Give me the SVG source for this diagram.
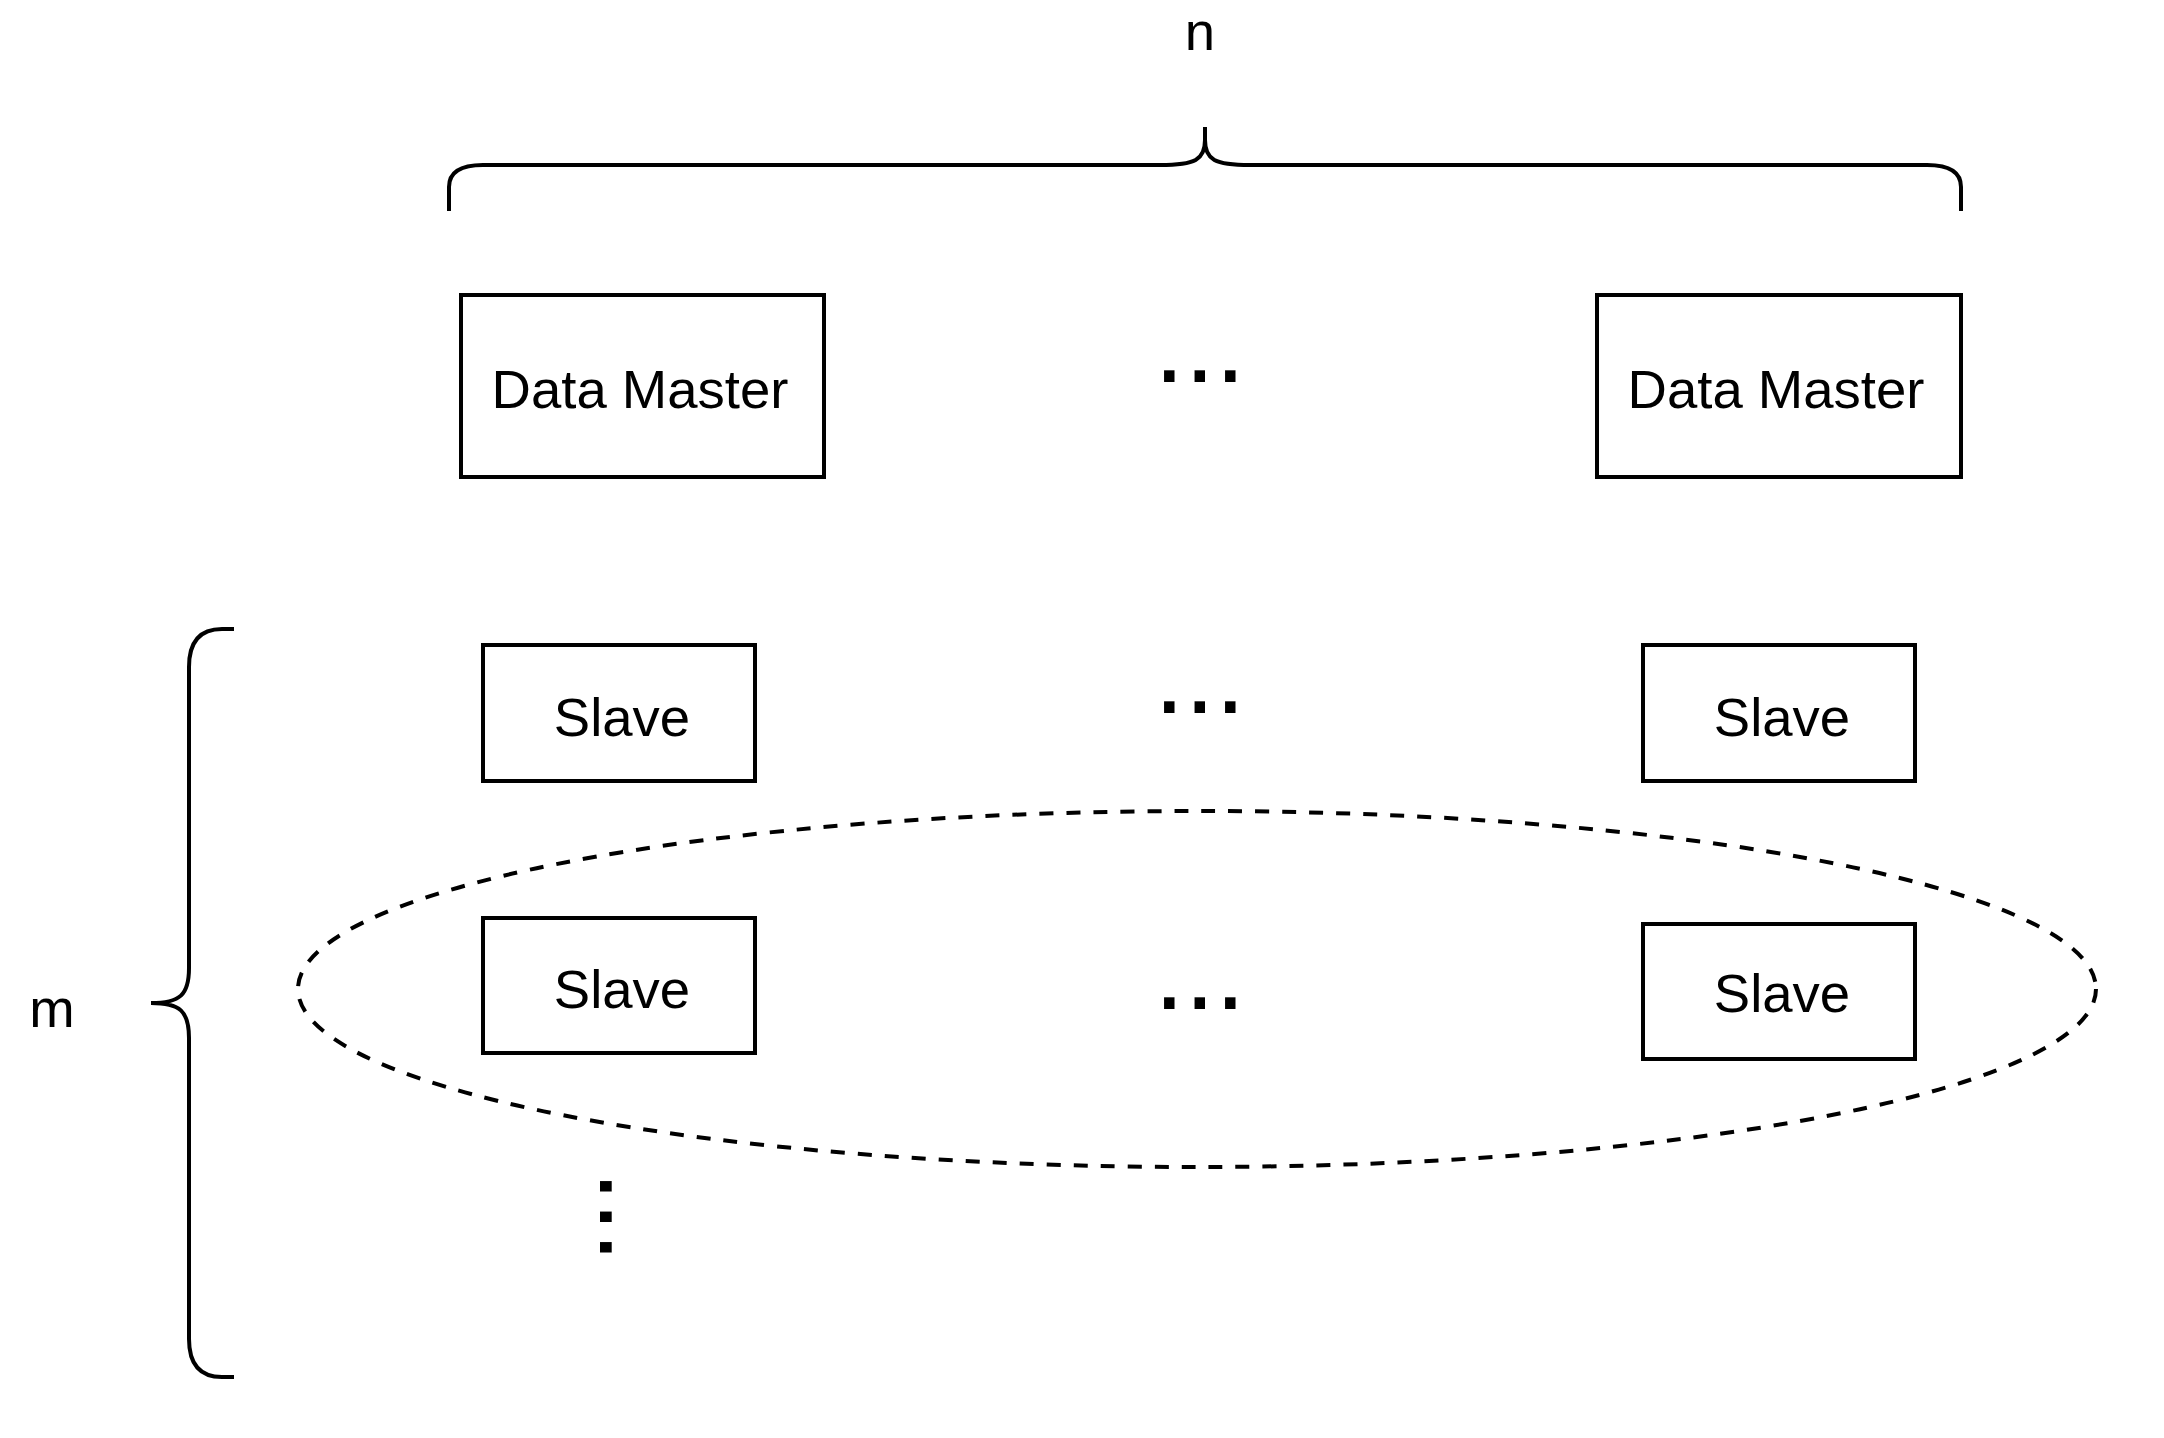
<svg xmlns="http://www.w3.org/2000/svg" width="2164" height="1438" viewBox="0 0 2164 1438">
  <style>
    .box { fill: #ffffff; stroke: #000000; stroke-width: 4; }
    .brace { fill: none; stroke: #000000; stroke-width: 4; stroke-linecap: butt; }
    .dash { fill: none; stroke: #000000; stroke-width: 4; stroke-dasharray: 14 13; }
    .lbl { font-family: "Liberation Sans", Arial, sans-serif; font-size: 54.5px; fill: #000000; text-anchor: middle; }
    .dots { font-family: "Liberation Sans", Arial, sans-serif; font-size: 110px; fill: #000000; }
  </style>
  <rect x="0" y="0" width="2164" height="1438" fill="#ffffff"/>

  <g id="label-n">
    <text class="lbl" x="1200" y="50">n</text>
  </g>
  <g id="label-m">
    <text class="lbl" x="52" y="1027">m</text>
  </g>

  <g id="connectors">
    <path id="brace-top" class="brace" d="M449,211 L449,187 Q449,165 483,165 L1160,165 C1195,165 1205,160 1205,140 L1205,127 M1205,140 C1205,160 1215,165 1250,165 L1927,165 Q1961,165 1961,187 L1961,211"/>
    <path id="brace-left" class="brace" d="M234,629 L222,629 Q189,629 189,667 L189,968 C189,995 180,1003 151,1003 M151,1003 C180,1003 189,1011 189,1038 L189,1339 Q189,1377 222,1377 L234,1377"/>
    <ellipse id="group-ellipse" class="dash" cx="1197" cy="989" rx="899" ry="178"/>
  </g>

  <g id="data-master-1">
    <rect class="box" x="461" y="295" width="363" height="182"/>
    <text class="lbl" x="640" y="408">Data Master</text>
  </g>
  <g id="data-master-n">
    <rect class="box" x="1597" y="295" width="364" height="182"/>
    <text class="lbl" x="1776" y="408">Data Master</text>
  </g>

  <g id="slave-1-1">
    <rect class="box" x="483" y="645" width="272" height="136"/>
    <text class="lbl" x="622" y="736">Slave</text>
  </g>
  <g id="slave-1-n">
    <rect class="box" x="1643" y="645" width="272" height="136"/>
    <text class="lbl" x="1782" y="736">Slave</text>
  </g>
  <g id="slave-2-1">
    <rect class="box" x="483" y="918" width="272" height="135"/>
    <text class="lbl" x="622" y="1008">Slave</text>
  </g>
  <g id="slave-2-n">
    <rect class="box" x="1643" y="924" width="272" height="135"/>
    <text class="lbl" x="1782" y="1012">Slave</text>
  </g>

  <g id="ellipsis-masters">
    <text class="dots" x="1154" y="382">...</text>
  </g>
  <g id="ellipsis-row-1">
    <text class="dots" x="1154" y="713">...</text>
  </g>
  <g id="ellipsis-row-2">
    <text class="dots" x="1154" y="1009">...</text>
  </g>
  <g id="ellipsis-vertical">
    <text class="dots" transform="translate(600,1171) rotate(90)">...</text>
  </g>
</svg>
